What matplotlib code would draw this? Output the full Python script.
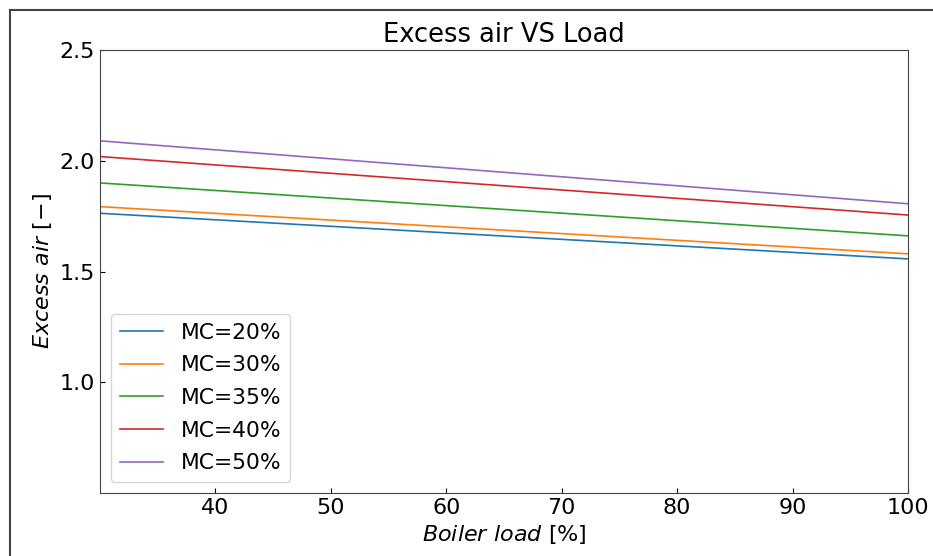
import numpy as np
import matplotlib
matplotlib.use("Agg")
import matplotlib.pyplot as plt
from matplotlib.lines import Line2D

# boiler load range [%]
load = [30, 100]

# excess air at the ends of the load range, one list per moisture content
labels = ["MC=20%", "MC=30%", "MC=35%", "MC=40%", "MC=50%"]
excess_air = [
    [1.763, 1.557],
    [1.793, 1.580],
    [1.900, 1.661],
    [2.019, 1.755],
    [2.090, 1.806],
]

fig = plt.figure(figsize=(9.33, 5.56), dpi=100)
ax = fig.add_axes([0.1072, 0.1133, 0.8660, 0.7967])

for lab, vals in zip(labels, excess_air):
    ax.plot(load, vals, label=lab, linewidth=1.2)

ax.set_xlim(30, 100)
ax.set_ylim(0.5, 2.5)
ax.set_xticks([40, 50, 60, 70, 80, 90, 100])
ax.set_yticks([1.0, 1.5, 2.0, 2.5])
ax.tick_params(direction="in", labelsize=16)
for sp in ax.spines.values():
    sp.set_color("#444444")

ax.set_title("Excess air VS Load", fontsize=18.5)
ax.set_xlabel(r"$Boiler\ load\ [\%]$", fontsize=16)
ax.set_ylabel(r"$Excess\ air\ [-]$", fontsize=16)
ax.legend(loc="lower left", fontsize=15.7, labelspacing=0.58)

# frame around the figure, only its left and top sides are in the picture
x0 = 9.5 / 933
y0 = 1 - 10 / 556
fig.lines.append(Line2D([x0, x0], [0, y0], transform=fig.transFigure,
                        color="#444444", linewidth=1.5))
fig.lines.append(Line2D([x0, 1], [y0, y0], transform=fig.transFigure,
                        color="#444444", linewidth=1.5))

fig.savefig("out.png", dpi=100)
